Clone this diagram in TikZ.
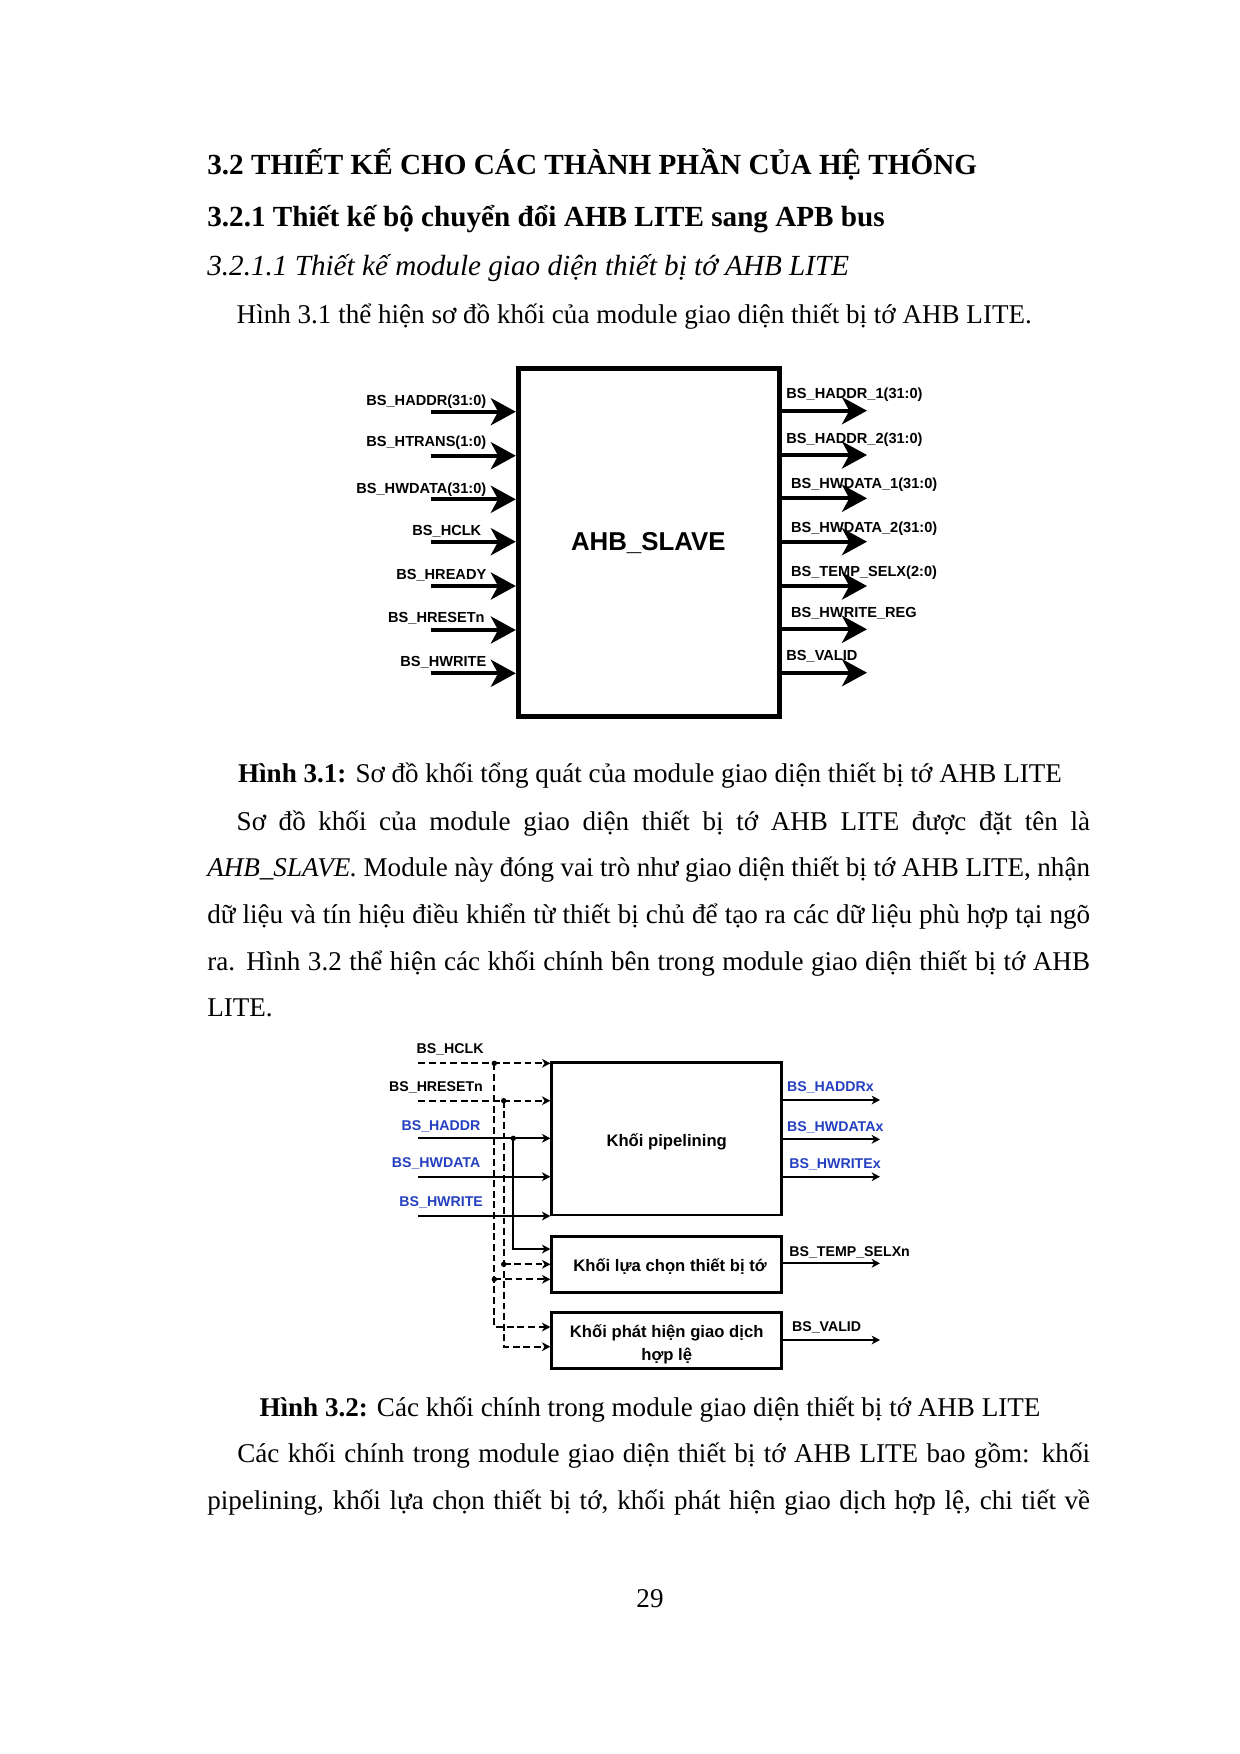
\documentclass[tikz,border=0pt]{standalone}
\usepackage{fontspec}
\setmainfont{Liberation Serif}
\newfontfamily\arialfont{Liberation Sans}
\usetikzlibrary{arrows.meta}
\definecolor{sigblue}{RGB}{36,64,192}
\begin{document}
\begin{tikzpicture}[x=0.48pt,y=-0.48pt,
  txt/.style={anchor=base west,inner sep=0pt,outer sep=0pt,font=\fontsize{13}{15}\selectfont},
  txtc/.style={txt,anchor=base},
  pinl/.style={anchor=base east,inner sep=0pt,font=\arialfont\bfseries\fontsize{7}{8}\selectfont},
  pinr/.style={pinl,anchor=base west},
  sigl/.style={anchor=base east,inner sep=0pt,font=\arialfont\bfseries\fontsize{6.8}{8}\selectfont},
  sigr/.style={sigl,anchor=base west},
  blktxt/.style={anchor=base,inner sep=0pt,font=\arialfont\bfseries\fontsize{8}{10}\selectfont},
  bigarr/.style={line width=1.9pt,-{Stealth[length=12pt,width=13pt,inset=3.5pt]}},
  sarr/.style={line width=0.95pt,-{Stealth[length=4pt,width=4.2pt,inset=1.2pt]}},
  darr/.style={sarr,dash pattern=on 3.3pt off 1.8pt},
  dline/.style={line width=0.95pt,dash pattern=on 3.3pt off 1.8pt},
  sline/.style={line width=0.95pt},
  blk/.style={draw,line width=1.3pt,inner sep=0pt,minimum width=110.4pt},
  jdot/.style={fill,circle,inner sep=0pt,minimum size=2.6pt}
]
\path[fill=white] (0,0) rectangle (1240,1754);
\useasboundingbox (0,0) rectangle (1240,1754);

% ---------- body text ----------
\node[txt,font=\bfseries\fontsize{14}{16}\selectfont] (h1) at (207.3,174.3) {3.2 THIẾT KẾ CHO CÁC THÀNH PHẦN CỦA HỆ THỐNG};
\node[txt,font=\bfseries\fontsize{14}{16}\selectfont] (h2) at (207.3,226) {3.2.1 Thiết kế bộ chuyển đổi AHB LITE sang APB bus};
\node[txt,font=\itshape\fontsize{14}{16}\selectfont] (h3) at (207.3,275) {3.2.1.1 Thiết kế module giao diện thiết bị tớ AHB LITE};
\node[txt] (p0) at (236.7,323.3) {Hình 3.1 thể hiện sơ đồ khối của module giao diện thiết bị tớ AHB LITE.};

\node[txtc] (cap1) at (650,782.3) {\textbf{Hình 3.1:} Sơ đồ khối tổng quát của module giao diện thiết bị tớ AHB LITE};
\node[txt] (p1a) at (236.7,830) {\makebox[409.6pt][s]{Sơ đồ khối của module giao diện thiết bị tớ AHB LITE được đặt tên là}};
\node[txt] (p1b) at (207.3,876.7) {\makebox[423.7pt][s]{\textit{AHB\_SLAVE.} Module này đóng vai trò như giao diện thiết bị tớ AHB LITE, nhận}};
\node[txt] (p1c) at (207.3,923.3) {\makebox[423.7pt][s]{dữ liệu và tín hiệu điều khiển từ thiết bị chủ để tạo ra các dữ liệu phù hợp tại ngõ}};
\node[txt] (p1d) at (207.3,970) {\makebox[423.7pt][s]{ra. Hình 3.2 thể hiện các khối chính bên trong module giao diện thiết bị tớ AHB}};
\node[txt] (p1e) at (207.3,1016.7) {LITE.};

\node[txtc] (cap2) at (650,1416.7) {\textbf{Hình 3.2:} Các khối chính trong module giao diện thiết bị tớ AHB LITE};
\node[txt] (p2a) at (237.3,1462.7) {\makebox[409.3pt][s]{Các khối chính trong module giao diện thiết bị tớ AHB LITE bao gồm: khối}};
\node[txt] (p2b) at (207.3,1509.3) {\makebox[423.7pt][s]{pipelining, khối lựa chọn thiết bị tớ, khối phát hiện giao dịch hợp lệ, chi tiết về}};
\node[txtc] (pg) at (650,1607.5) {29};

% ---------- figure 3.1 ----------
\node[draw,line width=2.4pt,inner sep=0pt,minimum width=125.6pt,minimum height=167.2pt] (slave) at (649.15,542.5) {};
\node[anchor=base,inner sep=0pt,font=\arialfont\bfseries\fontsize{12.4}{14}\selectfont] (slavet) at (648.3,550) {AHB\_SLAVE};

\node[pinl] (l1) at (486.7,405.7) {BS\_HADDR(31:0)};
\node[pinl] (l2) at (486.7,446.7) {BS\_HTRANS(1:0)};
\node[pinl] (l3) at (486.7,493.3) {BS\_HWDATA(31:0)};
\node[pinl] (l4) at (481.7,535.7) {BS\_HCLK};
\node[pinl] (l5) at (486.7,579) {BS\_HREADY};
\node[pinl] (l6) at (485,622.3) {BS\_HRESETn};
\node[pinl] (l7) at (486.7,666.7) {BS\_HWRITE};

\node[pinr] (r1) at (786,398.3) {BS\_HADDR\_1(31:0)};
\node[pinr] (r2) at (786,443.3) {BS\_HADDR\_2(31:0)};
\node[pinr] (r3) at (790.7,488.3) {BS\_HWDATA\_1(31:0)};
\node[pinr] (r4) at (790.7,532.3) {BS\_HWDATA\_2(31:0)};
\node[pinr] (r5) at (790.7,576) {BS\_TEMP\_SELX(2:0)};
\node[pinr] (r6) at (790.7,617.3) {BS\_HWRITE\_REG};
\node[pinr] (r7) at (786,660) {BS\_VALID};

\foreach \i/\y in {1/411.7,2/455.7,3/499.3,4/541.7,5/586,6/630,7/673.3}{
  \coordinate (li\i) at (430.7,\y);
  \draw[bigarr] (li\i) -- (li\i -| slave.west);
}
\foreach \i/\y in {1/410.7,2/455,3/498.3,4/541.7,5/586,6/629.3,7/672.7}{
  \coordinate (ro\i) at (867,\y);
  \draw[bigarr] (ro\i -| slave.east) -- (ro\i);
}

% ---------- figure 3.2 ----------
\node[blk,minimum height=73.1pt] (pipe) at (666.7,1138.85) {};
\node[blk,minimum height=26.9pt] (sel) at (666.7,1264.7) {};
\node[blk,minimum height=26.9pt] (valid) at (666.7,1340.3) {};
\node[blktxt] (pipet) at (666.7,1146) {Khối pipelining};
\node[blktxt] (selt) at (670,1271.7) {Khối lựa chọn thiết bị tớ};
\node[blktxt] (validt1) at (666.7,1337.3) {Khối phát hiện giao dịch};
\node[blktxt] (validt2) at (666.7,1360) {hợp lệ};

\node[sigl] (s1) at (484,1053.3) {BS\_HCLK};
\node[sigl] (s2) at (483.3,1091.7) {BS\_HRESETn};
\node[sigl,text=sigblue] (s3) at (480.7,1130) {BS\_HADDR};
\node[sigl,text=sigblue] (s4) at (480.7,1167.3) {BS\_HWDATA};
\node[sigl,text=sigblue] (s5) at (483.3,1206) {BS\_HWRITE};

\node[sigr,text=sigblue] (o1) at (786.7,1091.7) {BS\_HADDRx};
\node[sigr,text=sigblue] (o2) at (786.7,1131) {BS\_HWDATAx};
\node[sigr,text=sigblue] (o3) at (789,1168.3) {BS\_HWRITEx};
\node[sigr] (o4) at (789,1256.7) {BS\_TEMP\_SELXn};
\node[sigr] (o5) at (791.7,1331) {BS\_VALID};

\coordinate (cS) at (418.3,1063.3);
\coordinate (rS) at (418.3,1100.7);
\coordinate (aS) at (418.3,1138.3);
\coordinate (wdS) at (418.3,1176.7);
\coordinate (wS) at (418.3,1216);
\coordinate (cJ) at (494.3,1063.3);
\coordinate (rJ) at (503.7,1100.7);
\coordinate (aJ) at (513.3,1138.3);
\coordinate (cJ2) at (494.3,1279.3);
\coordinate (rJ2) at (503.7,1264.3);
\coordinate (cB) at (494.3,1327);
\coordinate (rB) at (503.7,1346.7);
\coordinate (aB) at (513.3,1249);

\draw[darr] (cS) -- (cS -| pipe.west);
\draw[darr] (rS) -- (rS -| pipe.west);
\draw[sarr] (aS) -- (aS -| pipe.west);
\draw[sarr] (wdS) -- (wdS -| pipe.west);
\draw[sarr] (wS) -- (wS -| pipe.west);
\draw[darr] (cJ) -- (cB) -- (cB -| valid.west);
\draw[darr] (cJ2) -- (cJ2 -| sel.west);
\draw[darr] (rJ) -- (rB) -- (rB -| valid.west);
\draw[darr] (rJ2) -- (rJ2 -| sel.west);
\draw[sarr] (aJ) -- (aB) -- (aB -| sel.west);

\node[jdot] (d1) at (cJ) {};
\node[jdot] (d2) at (rJ) {};
\node[jdot] (d3) at (aJ) {};
\node[jdot] (d4) at (cJ2) {};
\node[jdot] (d5) at (rJ2) {};

\foreach \i/\y in {1/1100,2/1139.3,3/1176.7}{
  \coordinate (po\i) at (880,\y);
  \draw[sarr] (po\i -| pipe.east) -- (po\i);
}
\coordinate (so1) at (880,1263.3);
\draw[sarr] (so1 -| sel.east) -- (so1);
\coordinate (vo1) at (880,1340);
\draw[sarr] (vo1 -| valid.east) -- (vo1);
\end{tikzpicture}
\end{document}
